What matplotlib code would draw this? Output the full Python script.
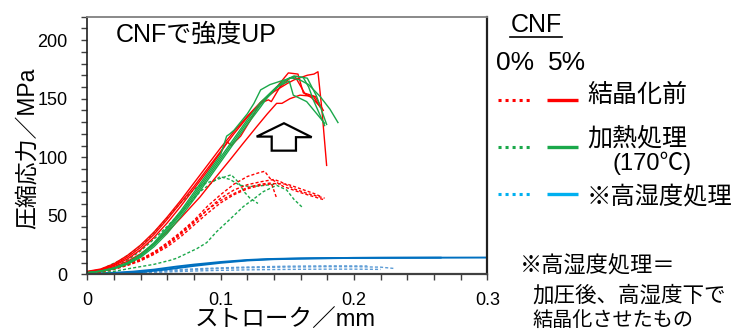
import numpy as np
import matplotlib
matplotlib.use("Agg")
from matplotlib import pyplot as plt
from matplotlib.lines import Line2D
from matplotlib.patches import Polygon

plt.rcParams['font.family'] = ['Liberation Sans', 'Noto Sans CJK JP', 'DejaVu Sans']

# CNF 5% 結晶化前 (solid red)
red5_x = [
    [0, 0.01, 0.02, 0.03, 0.04, 0.05, 0.06, 0.07, 0.08, 0.09, 0.10, 0.11, 0.12, 0.13, 0.14, 0.15, 0.155, 0.16, 0.165, 0.170, 0.173, 0.176, 0.1795],
    [0, 0.01, 0.02, 0.03, 0.04, 0.05, 0.06, 0.07, 0.08, 0.09, 0.10, 0.11, 0.12, 0.13, 0.14, 0.145, 0.1508, 0.158, 0.162, 0.168, 0.175],
    [0, 0.01, 0.02, 0.03, 0.04, 0.05, 0.06, 0.07, 0.08, 0.09, 0.10, 0.105, 0.108, 0.115, 0.122, 0.1295, 0.1358, 0.138, 0.1445, 0.152, 0.1558, 0.163, 0.171, 0.177],
    [0, 0.01, 0.02, 0.03, 0.04, 0.05, 0.06, 0.07, 0.0845, 0.095, 0.107, 0.117, 0.127, 0.135, 0.142, 0.146, 0.152, 0.1595, 0.1695, 0.1745],
]
red5_y = [
    [2.5, 4.5, 9, 16, 25, 36, 49, 63, 78, 93, 108, 122, 135, 147, 156, 163, 166, 168, 170, 171, 173, 140, 93],
    [2.2, 4, 8, 14.5, 23, 34, 47, 61, 75, 90, 105, 120, 134, 146, 157, 164, 172, 171, 155, 151, 143],
    [2, 3.8, 7.5, 13, 21, 31.5, 44, 58, 73, 88, 104, 113, 110, 118, 131, 146, 149, 147.5, 160, 167.5, 169, 154.7, 151.8, 140],
    [1.8, 3.3, 6.5, 11, 17.5, 26, 36, 48, 66, 81, 97.7, 112, 126, 137, 146, 146, 150, 153, 152, 143],
]

# CNF 5% 加熱処理 (solid green)
green5_x = [
    [0, 0.01, 0.02, 0.03, 0.04, 0.05, 0.06, 0.07, 0.08, 0.09, 0.10, 0.1045, 0.107, 0.11, 0.12, 0.125, 0.13, 0.137, 0.145, 0.157, 0.165, 0.172, 0.1795],
    [0, 0.01, 0.02, 0.03, 0.04, 0.05, 0.06, 0.07, 0.08, 0.09, 0.10, 0.11, 0.12, 0.13, 0.14, 0.147, 0.152, 0.1595, 0.166, 0.1745, 0.182, 0.188],
    [0, 0.01, 0.02, 0.03, 0.04, 0.05, 0.06, 0.07, 0.08, 0.09, 0.10, 0.11, 0.12, 0.13, 0.135, 0.142, 0.1495, 0.1515, 0.1545, 0.1645, 0.178],
    [0, 0.01, 0.02, 0.03, 0.04, 0.05, 0.06, 0.07, 0.08, 0.09, 0.10, 0.11, 0.12, 0.13, 0.14, 0.147, 0.155, 0.162, 0.166, 0.1695, 0.178],
]
green5_y = [
    [1.5, 2.8, 5.5, 10, 17, 27, 40, 54, 70, 86, 102, 118, 120, 123, 137, 146, 157.5, 162, 165, 169, 167.5, 152, 128],
    [1.3, 2.6, 5, 9, 15.5, 25, 37, 51, 66, 82, 98, 114, 130, 145, 157, 164, 168, 166, 162, 152, 141, 129.6],
    [1.2, 2.4, 4.6, 8.5, 14.5, 23.5, 35, 49, 64, 80, 96, 112, 128, 143, 151, 160, 164, 165, 153, 147.5, 129],
    [1.4, 2.7, 5.3, 9.5, 16.5, 26, 38.5, 52.5, 68, 84, 100, 116, 132, 147, 158, 165, 169.4, 168, 160, 149, 127],
]

# CNF 0% 結晶化前 (dashed red)
red0_x = [
    [0, 0.01, 0.02, 0.03, 0.04, 0.05, 0.06, 0.07, 0.08, 0.09, 0.10, 0.11, 0.12, 0.128, 0.133, 0.137, 0.147, 0.162, 0.178],
    [0, 0.01, 0.02, 0.03, 0.04, 0.05, 0.06, 0.07, 0.08, 0.09, 0.10, 0.11, 0.12, 0.13, 0.14, 0.145, 0.155, 0.165, 0.178],
    [0, 0.01, 0.02, 0.03, 0.04, 0.05, 0.06, 0.07, 0.08, 0.09, 0.10, 0.11, 0.12, 0.13, 0.138, 0.142],
    [0, 0.01, 0.02, 0.03, 0.04, 0.05, 0.06, 0.07, 0.08, 0.09, 0.10, 0.11, 0.12, 0.13, 0.14, 0.15, 0.16, 0.17, 0.176],
]
red0_y = [
    [1, 2.5, 5, 8.5, 13, 19, 27, 36, 46, 58, 68, 77, 83.5, 86.5, 88, 82, 75, 69, 63.5],
    [0.8, 2.2, 4.5, 8, 12, 18, 25, 34, 44, 55, 65, 72, 76.5, 79, 81, 79, 73, 69, 65],
    [0.9, 2.3, 4.8, 8.3, 12.5, 18.5, 26, 35, 45, 55, 63, 69, 74, 77, 78, 65],
    [0.7, 2, 4.2, 7.5, 11.5, 17, 23.5, 32, 42, 52, 61, 68, 73, 76, 77.5, 77, 73, 69, 66],
]

# CNF 0% 加熱処理 (dashed green)
green0_x = [
    [0, 0.01, 0.0248, 0.035, 0.0448, 0.055, 0.062, 0.07, 0.0795, 0.085, 0.092, 0.10, 0.108, 0.113, 0.118, 0.122, 0.128],
    [0, 0.01, 0.02, 0.03, 0.04, 0.05, 0.06, 0.0745, 0.085, 0.0995, 0.107, 0.1145, 0.122, 0.1295, 0.137, 0.142],
    [0, 0.02, 0.032, 0.05, 0.0623, 0.067, 0.0823, 0.0895, 0.097, 0.107, 0.117, 0.125, 0.132, 0.142, 0.1495, 0.155, 0.162],
]
green0_y = [
    [1, 4, 12, 20, 29.3, 42, 51, 61, 72, 76, 79, 82, 85, 79, 70, 65, 60.5],
    [0.8, 2.5, 6, 12, 20, 30, 41, 58, 71, 83.4, 81, 76, 75, 75.5, 76.5, 77],
    [0.3, 2.5, 5, 8.5, 12, 13.7, 22, 27, 36.4, 47, 57.8, 64.5, 70.6, 76, 72, 64, 56.4],
]

# 高湿度処理 (blue)
blue5_x = [
    [0, 0.02, 0.0345, 0.05, 0.067, 0.08, 0.10, 0.12, 0.135, 0.16, 0.185, 0.22, 0.26, 0.30, 0.31],
    [0, 0.02, 0.04, 0.06, 0.08, 0.10, 0.12, 0.14, 0.17, 0.20, 0.265],
]
blue5_y = [
    [0.5, 1.3, 2.3, 4, 6.6, 8.3, 10.5, 12.2, 13, 13.6, 13.9, 14.1, 14.2, 14.3, 14.3],
    [0.2, 0.7, 1.8, 4.2, 7.2, 9.8, 11.8, 12.9, 13.6, 14, 14.2],
]
blue0_x = [
    [0, 0.02, 0.04, 0.06, 0.08, 0.10, 0.12, 0.15, 0.18, 0.20, 0.22, 0.23],
    [0, 0.02, 0.04, 0.06, 0.08, 0.10, 0.12, 0.15, 0.18, 0.20, 0.22],
    [0, 0.02, 0.04, 0.06, 0.08, 0.10, 0.12, 0.15, 0.18, 0.21],
]
blue0_y = [
    [0, 0.5, 1.5, 2.8, 4, 5, 5.6, 6.2, 6.5, 6.5, 6.1, 5],
    [0, 0.4, 1.1, 2, 2.8, 3.4, 3.8, 4.2, 4.4, 4.4, 4.2],
    [0, 0.7, 2, 3.4, 4.6, 5.5, 6.2, 6.9, 7.2, 7.1],
]

RED = '#ff0000'
GREEN = '#1aa84a'
BLUE = '#0070c0'
LBLUE = '#5b9bd5'
DASH = (0, (2.2, 1.5))

fig = plt.figure(figsize=(7.36, 3.33), dpi=100)
ax = fig.add_axes([87.3 / 736, 1 - 274.3 / 333, 400 / 736, (274.3 - 16.7) / 333])

for xs, ys in zip(blue0_x, blue0_y):
    ax.plot(xs, ys, color=LBLUE, lw=1.0, ls=DASH)
for xs, ys in zip(blue5_x, blue5_y):
    ax.plot(xs, ys, color=BLUE, lw=1.4)
for xs, ys in zip(green0_x, green0_y):
    ax.plot(xs, ys, color=GREEN, lw=1.0, ls=DASH)
for xs, ys in zip(red0_x, red0_y):
    ax.plot(xs, ys, color=RED, lw=1.0, ls=DASH)
for xs, ys in zip(red5_x, red5_y):
    ax.plot(xs, ys, color=RED, lw=1.0)
for xs, ys in zip(green5_x, green5_y):
    ax.plot(xs, ys, color=GREEN, lw=1.0)

ax.set_xlim(0, 0.3)
ax.set_ylim(0, 220)
ax.set_xticks([0, 0.1, 0.2, 0.3])
ax.set_xticklabels(['0', '0.1', '0.2', '0.3'])
ax.set_xticks(np.arange(0, 0.301, 0.02), minor=True)
ax.set_yticks([0, 50, 100, 150, 200])
ax.set_yticks(np.arange(0, 221, 10), minor=True)
ax.tick_params(which='both', direction='out', length=4, width=1.0, color='#404040', labelsize=13)
ax.tick_params(axis='x', which='both', pad=9)
ax.tick_params(axis='y', which='both', pad=10)
for side, c, w in [('left', '#202020', 1.2), ('bottom', '#404040', 1.6),
                   ('top', '#808080', 1.3), ('right', '#202020', 1.6)]:
    ax.spines[side].set_color(c)
    ax.spines[side].set_linewidth(w)

ax.set_xlabel('ストローク／mm', fontsize=17)
ax.xaxis.set_label_coords(0.495, -0.222)
ax.xaxis.label.set_va('bottom')
ax.set_ylabel('圧縮応力／MPa', fontsize=16.5)
ax.yaxis.set_label_coords(-0.122, 0.49)

ax.text(0.0215, 205, 'CNFで強度UP', fontsize=18, va='center', ha='left')

# hollow up arrow
arrow = Polygon([(0.127, 117.6), (0.1475, 129), (0.1683, 117.1), (0.1565, 117.1),
                 (0.1565, 105.6), (0.1383, 105.6), (0.1383, 117.6)],
                closed=True, fc='white', ec='black', lw=1.6, zorder=5)
ax.add_patch(arrow)


def fx(px):
    return px / 736


def fy(py):
    return 1 - py / 333


# legend block
fig.text(fx(536), fy(25), 'CNF', fontsize=18, ha='center', va='center')
fig.add_artist(Line2D([fx(510), fx(562)], [fy(37), fy(37)], color='black', lw=1.2,
                      transform=fig.transFigure))
fig.text(fx(515), fy(63), '0%', fontsize=19, ha='center', va='center')
fig.text(fx(567), fy(63), '5%', fontsize=19, ha='center', va='center')

legend_rows = [(100, RED, '#ff0000'), (147, GREEN, GREEN), (194, '#00b0f0', '#00b0f0')]
for py, c_dot, c_line in legend_rows:
    fig.add_artist(Line2D([fx(498), fx(530)], [fy(py), fy(py)], color=c_dot, lw=2.2,
                          ls=(0, (1, 1.3)), dash_capstyle='butt', transform=fig.transFigure))
    fig.add_artist(Line2D([fx(547), fx(578)], [fy(py), fy(py)], color=c_line, lw=2.4,
                          solid_capstyle='butt', transform=fig.transFigure))

fig.text(fx(587), fy(95), '結晶化前', fontsize=18, ha='left', va='center')
fig.text(fx(587), fy(138), '加熱処理', fontsize=18, ha='left', va='center')
fig.text(fx(612), fy(163), '(170℃)', fontsize=17, ha='left', va='center')
fig.text(fx(587), fy(197), '※高湿度処理', fontsize=17.5, ha='left', va='center')

fig.text(fx(520), fy(267), '※高湿度処理＝', fontsize=16, ha='left', va='center')
fig.text(fx(532), fy(296), '加圧後、高湿度下で', fontsize=15.5, ha='left', va='center')
fig.text(fx(533), fy(320), '結晶化させたもの', fontsize=14.5, ha='left', va='center')

fig.savefig('out.png', dpi=100)
